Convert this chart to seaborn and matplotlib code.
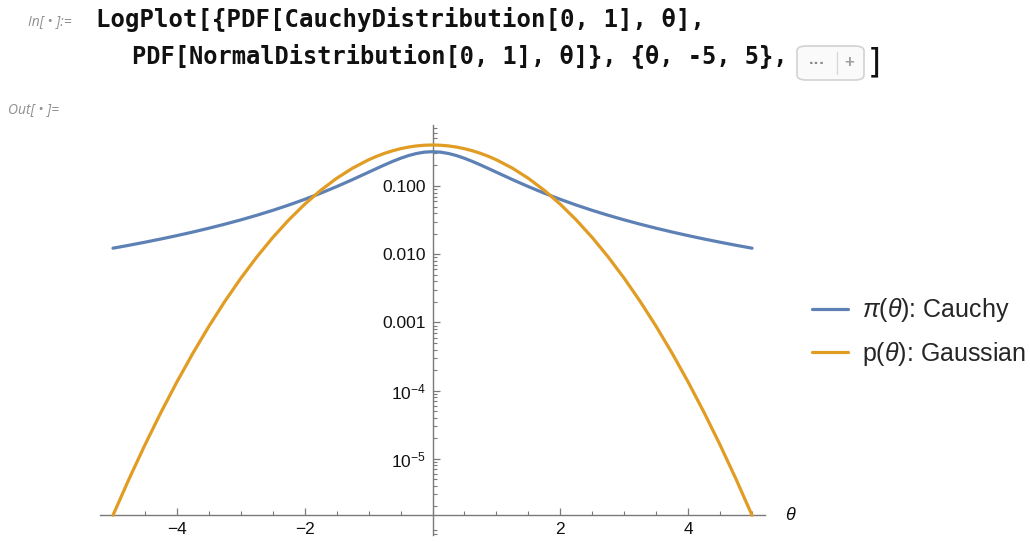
import numpy as np
import matplotlib
matplotlib.use("Agg")
import matplotlib.pyplot as plt
import matplotlib.ticker as mticker
import matplotlib.transforms as mtransforms
from matplotlib.patches import FancyBboxPatch
import seaborn as sns
import pandas as pd

# ---------------- data ----------------
theta = [-5.0, -4.75, -4.5, -4.25, -4.0, -3.75, -3.5, -3.25, -3.0, -2.75, -2.5,
         -2.25, -2.0, -1.75, -1.5, -1.25, -1.0, -0.875, -0.75, -0.625, -0.5,
         -0.375, -0.25, -0.125, 0.0,
         0.125, 0.25, 0.375, 0.5, 0.625, 0.75, 0.875, 1.0, 1.25, 1.5, 1.75,
         2.0, 2.25, 2.5, 2.75, 3.0, 3.25, 3.5, 3.75, 4.0, 4.25, 4.5, 4.75, 5.0]
cauchy = [0.012243, 0.013509, 0.014979, 0.016698, 0.018724, 0.021133, 0.024024,
          0.027530, 0.031831, 0.037175, 0.043905, 0.052505, 0.063662, 0.078354,
          0.097942, 0.12422, 0.15915, 0.18028, 0.20372, 0.22890, 0.25465,
          0.27907, 0.29959, 0.31341, 0.31831,
          0.31341, 0.29959, 0.27907, 0.25465, 0.22890, 0.20372, 0.18028,
          0.15915, 0.12422, 0.097942, 0.078354,
          0.063662, 0.052505, 0.043905, 0.037175, 0.031831, 0.027530, 0.024024,
          0.021133, 0.018724, 0.016698, 0.014979, 0.013509, 0.012243]
gaussian = [1.4867e-6, 5.0294e-6, 1.5984e-5, 4.7718e-5, 1.3383e-4, 3.5260e-4,
            8.7268e-4, 2.0290e-3, 4.4318e-3, 9.0936e-3, 0.017528, 0.031740,
            0.053991, 0.086277, 0.12952, 0.18265, 0.24197, 0.27205, 0.30114,
            0.32816, 0.35207, 0.37186, 0.38667, 0.39584, 0.39894,
            0.39584, 0.38667, 0.37186, 0.35207, 0.32816, 0.30114, 0.27205,
            0.24197, 0.18265, 0.12952, 0.086277,
            0.053991, 0.031740, 0.017528, 9.0936e-3, 4.4318e-3, 2.0290e-3,
            8.7268e-4, 3.5260e-4, 1.3383e-4, 4.7718e-5, 1.5984e-5, 5.0294e-6,
            1.4867e-6]
series_labels = [r"$\pi(\theta)$: Cauchy", r"$\mathrm{p}(\theta)$: Gaussian"]
x_ticks = [-4, -2, 2, 4]
x_tick_labels = ["\u22124", "\u22122", "2", "4"]
y_ticks = [0.1, 0.01, 0.001, 1e-4, 1e-5]
y_tick_labels = ["0.100", "0.010", "0.001", r"$10^{-4}$", r"$10^{-5}$"]
code_line1 = "LogPlot[{PDF[CauchyDistribution[0, 1], \u03b8],"
code_line2 = "PDF[NormalDistribution[0, 1], \u03b8]}, {\u03b8, -5, 5},"

# ---------------- style ----------------
sns.set_style("white")
plt.rcParams["font.family"] = ["Liberation Sans", "DejaVu Sans"]
plt.rcParams["mathtext.fontset"] = "custom"
plt.rcParams["mathtext.rm"] = "Liberation Sans"
plt.rcParams["mathtext.it"] = "Liberation Sans:italic"
plt.rcParams["mathtext.bf"] = "Liberation Sans:bold"

blue = "#5E81B5"
orange = "#E19C24"
axis_gray = "#7a7a7a"

fig = plt.figure(figsize=(10.30, 5.42), dpi=100)
ax = fig.add_axes([100 / 1030, 7 / 542, 665 / 1030, 410 / 542])

df = pd.DataFrame({"theta": theta, "cauchy": cauchy, "gaussian": gaussian})
sns.lineplot(data=df, x="theta", y="cauchy", ax=ax, color=blue, lw=2.3,
             sort=False, label=series_labels[0])
sns.lineplot(data=df, x="theta", y="gaussian", ax=ax, color=orange, lw=2.3,
             sort=False, label=series_labels[1])

ax.set_yscale("log")
ax.set_xlim(-5.203, 5.203)
ax.set_ylim(10 ** -6.117, 10 ** -0.106)
ax.set_xlabel("")
ax.set_ylabel("")

ax.spines["left"].set_position(("data", 0))
ax.spines["bottom"].set_position(("data", gaussian[0]))
ax.spines["right"].set_visible(False)
ax.spines["top"].set_visible(False)
for s in ("left", "bottom"):
    ax.spines[s].set_color(axis_gray)
    ax.spines[s].set_linewidth(1.0)
    ax.spines[s].set_zorder(1)

ax.xaxis.set_major_locator(mticker.FixedLocator(x_ticks))
ax.xaxis.set_major_formatter(mticker.FixedFormatter(x_tick_labels))
ax.xaxis.set_minor_locator(mticker.MultipleLocator(0.5))
ax.yaxis.set_major_locator(mticker.FixedLocator(y_ticks))
ax.yaxis.set_major_formatter(mticker.FixedFormatter(y_tick_labels))
ax.yaxis.set_minor_locator(mticker.LogLocator(base=10, subs=np.arange(2, 10), numticks=20))
ax.yaxis.set_minor_formatter(mticker.NullFormatter())

ax.tick_params(axis="both", which="major", direction="in", length=5,
               width=0.9, color=axis_gray, labelsize=12.5, labelcolor="#111111")
ax.tick_params(axis="both", which="minor", direction="in", length=3,
               width=0.8, color=axis_gray)
ax.tick_params(axis="x", which="major", pad=5)
ax.tick_params(axis="y", which="major", pad=5)
ax.tick_params(left=True, bottom=True, which="both")

trans = mtransforms.blended_transform_factory(ax.transAxes, ax.transData)
ax.text(1.03, gaussian[0], r"$\theta$", transform=trans, ha="left",
        va="center", fontsize=13, color="#111111")

# legend
ax.get_legend().remove()
handles, labels = ax.get_legend_handles_labels()
fig.legend(handles, labels, loc="center left",
           bbox_to_anchor=(812 / 1030, 1 - 332 / 542), frameon=False,
           fontsize=18, handlelength=1.45, handletextpad=0.55, labelspacing=0.6,
           borderaxespad=0, borderpad=0)

# notebook cell text
gray = "#8f8f8f"
fig.text(28 / 1030, 1 - 25 / 542, "In[ \u2022 ]:=", fontsize=10, style="italic",
         color=gray, family=["Open Sans", "DejaVu Sans"], va="baseline")
fig.text(8 / 1030, 1 - 113 / 542, "Out[ \u2022 ]=", fontsize=10, style="italic",
         color=gray, family=["Open Sans", "DejaVu Sans"], va="baseline")
fig.text(96 / 1030, 1 - 27 / 542, code_line1, fontsize=17.3, weight="bold",
         family=["DejaVu Sans Mono"], va="baseline", color="#111111")
fig.text(132 / 1030, 1 - 63 / 542, code_line2, fontsize=17, weight="bold",
         family=["DejaVu Sans Mono"], va="baseline", color="#111111")
btn = FancyBboxPatch((797 / 1030, 1 - 80 / 542), 67 / 1030, 34 / 542,
                     boxstyle="round,pad=0,rounding_size=0.009",
                     transform=fig.transFigure, facecolor="#fafafa",
                     edgecolor="#d2d2d2", linewidth=1.2)
fig.patches.append(btn)
fig.text(817 / 1030, 1 - 63 / 542, "\u00b7\u00b7\u00b7", fontsize=12, weight="bold",
         color="#8a8a8a", ha="center", va="center")
fig.lines.append(plt.Line2D([837 / 1030, 837 / 1030], [1 - 52 / 542, 1 - 74 / 542],
                            transform=fig.transFigure, color="#d8d8d8", lw=1))
fig.text(849 / 1030, 1 - 63 / 542, "+", fontsize=12, weight="bold",
         color="#a0a0a0", ha="center", va="center")
fig.text(868 / 1030, 1 - 63 / 542, "]", fontsize=24,
         family=["DejaVu Sans"], va="center", color="#111111")

fig.savefig("out.png", dpi=100)
